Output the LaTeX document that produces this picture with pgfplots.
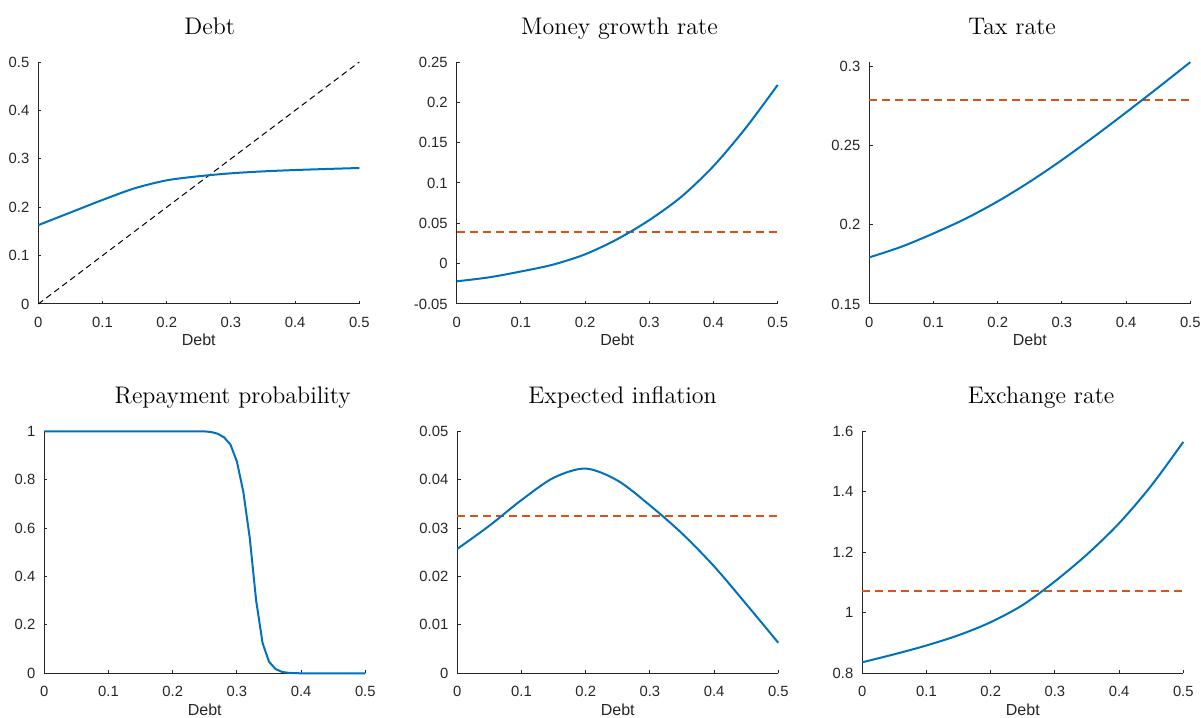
\documentclass[border=0pt]{standalone}
\usepackage{fontspec}
\newfontfamily\arial{Liberation Sans}
\usepackage{pgfplots}
\pgfplotsset{compat=1.18}
\definecolor{mblue}{rgb}{0,0.447,0.741}
\definecolor{mred}{rgb}{0.85,0.325,0.098}
\definecolor{axgray}{rgb}{0.15,0.15,0.15}
\pgfplotsset{
  mpanel/.style={
    scale only axis, width=160.5pt, height=121pt,
    anchor=south west,
    xmin=0, xmax=0.5,
    scaled x ticks=false, scaled y ticks=false,
    axis x line*=bottom, axis y line*=left,
    axis line style={-, color=axgray, line width=0.5pt},
    tick align=inside, major tick length=1.6pt,
    tick style={color=axgray, line width=0.5pt},
    xtick={0,0.1,0.2,0.3,0.4,0.5},
    xticklabels={0,0.1,0.2,0.3,0.4,0.5},
    ticklabel style={font=\arial\fontsize{7.4}{8}\selectfont, text=axgray},
    xticklabel style={yshift=-3.1pt},
    yticklabel style={xshift=-1pt},
    xlabel={Debt},
    xlabel style={font=\arial\fontsize{8}{9}\selectfont, text=axgray, at={(axis description cs:0.5,0)}, anchor=base, yshift=-21pt},
    title style={font=\fontsize{12}{14}\selectfont, anchor=base, yshift=7.9pt},
    clip=false,
  },
  blueline/.style={color=mblue, line width=1pt, no markers},
  redline/.style={color=mred, line width=1pt, dash pattern=on 4pt off 2.5pt, no markers},
}
\begin{document}
\begin{tikzpicture}
\useasboundingbox (0,0) rectangle (600.5pt,359pt);
% Panel 1: Debt
\begin{axis}[mpanel, at={(19.15pt,207pt)}, ymin=0, ymax=0.5,
  ytick={0,0.1,0.2,0.3,0.4,0.5}, yticklabels={0,0.1,0.2,0.3,0.4,0.5},
  title={Debt}, title style={at={(axis description cs:0.534,1)}}]
\addplot[color=black, line width=0.5pt, dash pattern=on 3pt off 2pt] coordinates {(0,0) (0.5,0.5)};
\addplot[blueline, smooth] coordinates {
(0,0.163) (0.05,0.189) (0.1,0.215) (0.15,0.239) (0.2,0.2555) (0.25,0.2640)
(0.3,0.2700) (0.35,0.2740) (0.4,0.2768) (0.45,0.2790) (0.5,0.2810)};
\end{axis}
% Panel 2: Money growth rate
\begin{axis}[mpanel, at={(228.35pt,207pt)}, ymin=-0.05, ymax=0.25,
  ytick={-0.05,0,0.05,0.1,0.15,0.2,0.25}, yticklabels={-0.05,0,0.05,0.1,0.15,0.2,0.25},
  title={Money growth rate}, title style={at={(axis description cs:0.507,1)}}]
\addplot[redline] coordinates {(0,0.0390) (0.5,0.0390)};
\addplot[blueline, smooth] coordinates {
(0,-0.0219) (0.05,-0.0170) (0.1,-0.0097) (0.15,-0.0012) (0.2,0.0116) (0.25,0.0303)
(0.3,0.0540) (0.35,0.0830) (0.4,0.1210) (0.45,0.1680) (0.5,0.2216)};
\end{axis}
% Panel 3: Tax rate
\begin{axis}[mpanel, at={(434.65pt,207pt)}, ymin=0.15, ymax=0.3026,
  ytick={0.15,0.2,0.25,0.3}, yticklabels={0.15,0.2,0.25,0.3},
  title={Tax rate}, title style={at={(axis description cs:0.445,1)}}]
\addplot[redline] coordinates {(0,0.2786) (0.5,0.2786)};
\addplot[blueline, smooth] coordinates {
(0,0.1794) (0.05,0.1861) (0.1,0.1945) (0.15,0.2038) (0.2,0.2147) (0.25,0.2271)
(0.3,0.2408) (0.35,0.2555) (0.4,0.2708) (0.45,0.2865) (0.5,0.3025)};
\end{axis}
% Panel 4: Repayment probability
\begin{axis}[mpanel, at={(22.15pt,22.35pt)}, ymin=0, ymax=1,
  ytick={0,0.2,0.4,0.6,0.8,1}, yticklabels={0,0.2,0.4,0.6,0.8,1},
  title={Repayment probability}, title style={at={(axis description cs:0.587,1)}}]
\addplot[blueline] coordinates {
(0,1) (0.24,1) (0.25,0.9995) (0.26,0.997) (0.27,0.99) (0.28,0.975) (0.29,0.945)
(0.30,0.875) (0.31,0.75) (0.32,0.56) (0.33,0.30) (0.34,0.125) (0.35,0.048)
(0.36,0.018) (0.37,0.006) (0.38,0.002) (0.39,0.0005) (0.40,0) (0.5,0)};
\end{axis}
% Panel 5: Expected inflation
\begin{axis}[mpanel, at={(228.65pt,22.35pt)}, ymin=0, ymax=0.05,
  ytick={0,0.01,0.02,0.03,0.04,0.05}, yticklabels={0,0.01,0.02,0.03,0.04,0.05},
  title={Expected inflation}, title style={at={(axis description cs:0.515,1)}}]
\addplot[redline] coordinates {(0,0.0326) (0.5,0.0326)};
\addplot[blueline, smooth] coordinates {
(0,0.0257) (0.05,0.0305) (0.1,0.0358) (0.15,0.0404) (0.2,0.0423)
(0.25,0.0398) (0.3,0.0347) (0.35,0.0289) (0.4,0.0221) (0.45,0.0143) (0.5,0.0063)};
\end{axis}
% Panel 6: Exchange rate
\begin{axis}[mpanel, at={(431.15pt,22.35pt)}, ymin=0.8, ymax=1.6,
  ytick={0.8,1,1.2,1.4,1.6}, yticklabels={0.8,1,1.2,1.4,1.6},
  title={Exchange rate}, title style={at={(axis description cs:0.557,1)}}]
\addplot[redline] coordinates {(0,1.0726) (0.5,1.0726)};
\addplot[blueline, smooth] coordinates {
(0,0.8364) (0.05,0.863) (0.1,0.892) (0.15,0.926) (0.2,0.969) (0.25,1.026)
(0.3,1.104) (0.35,1.193) (0.4,1.296) (0.45,1.420) (0.5,1.565)};
\end{axis}
\end{tikzpicture}
\end{document}
